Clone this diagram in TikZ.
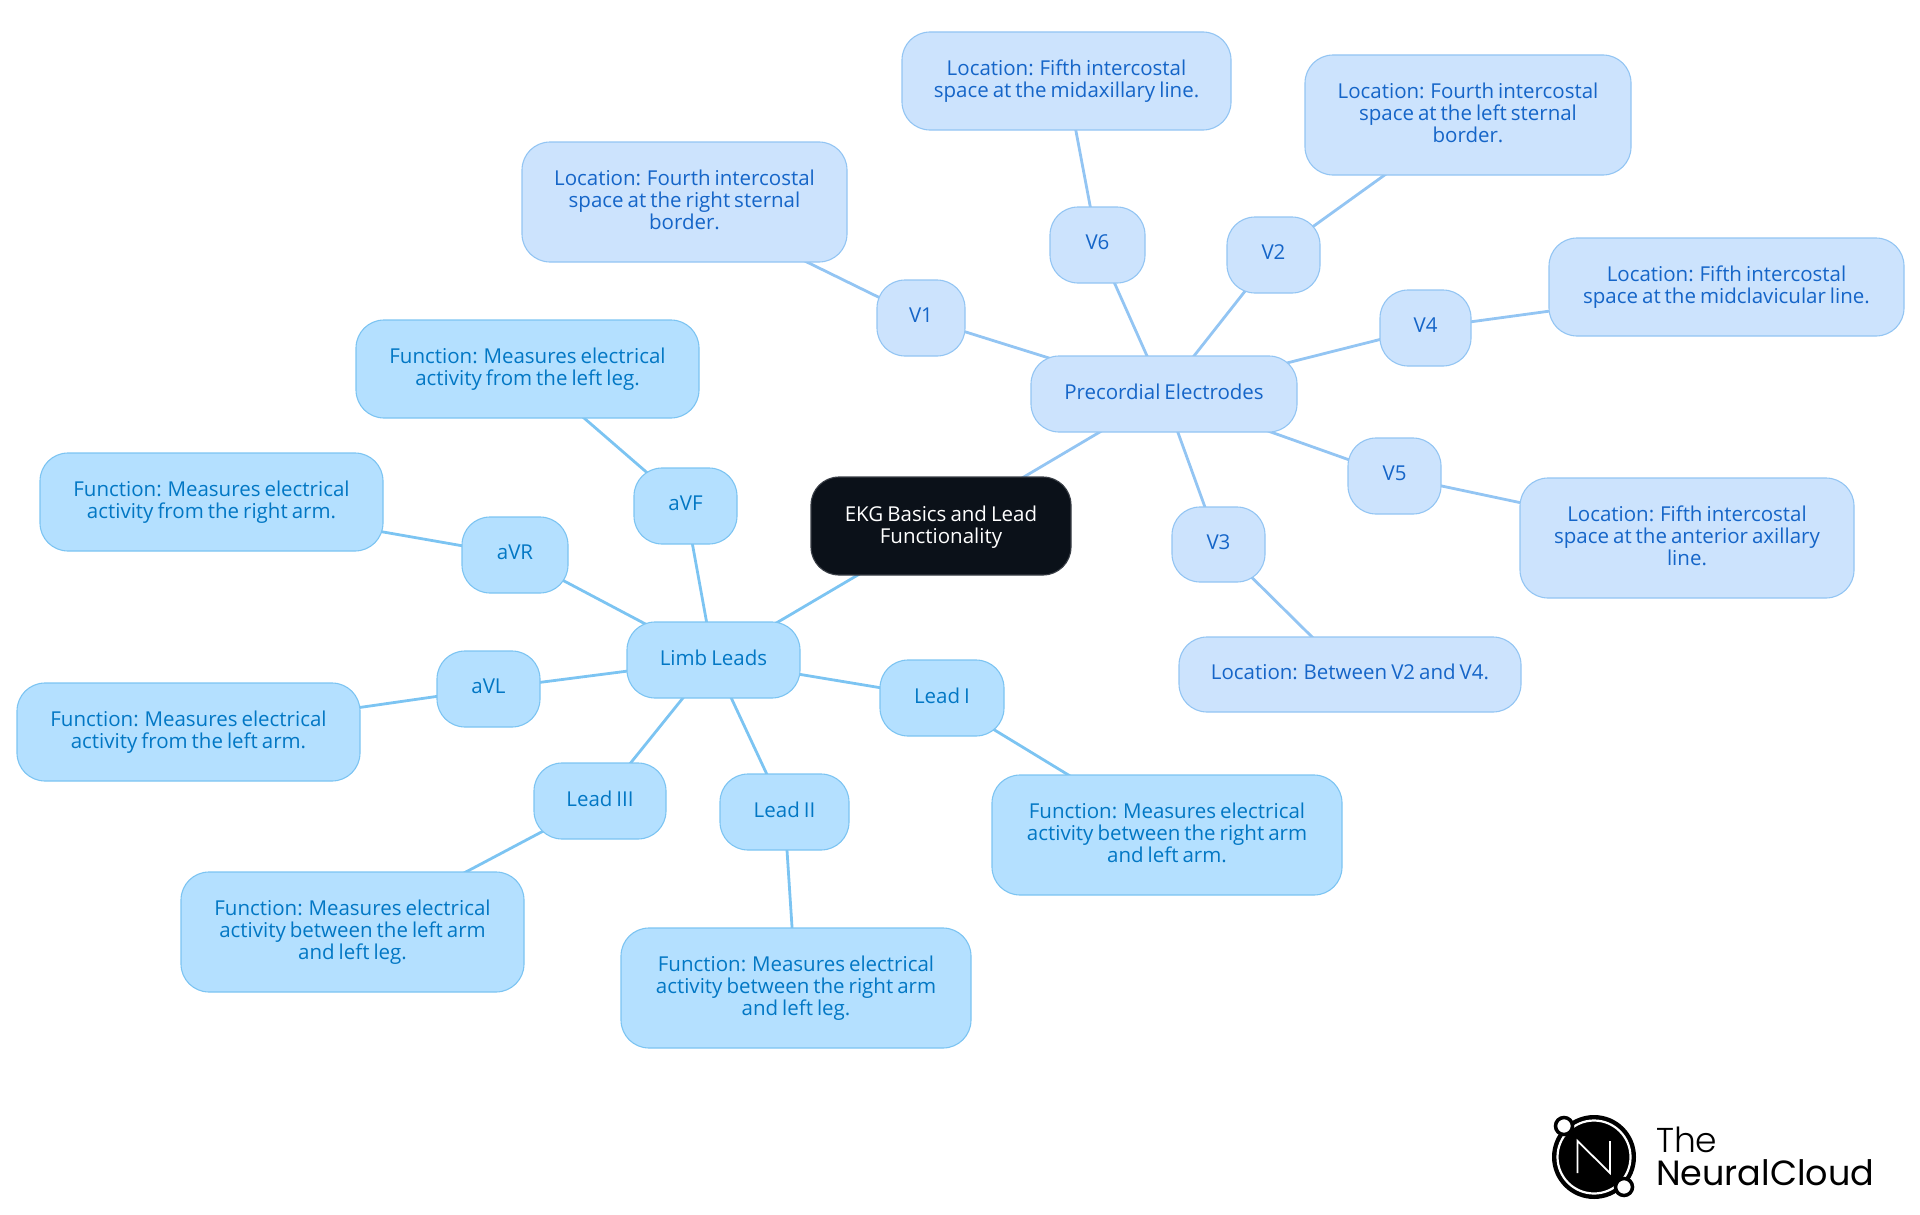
\documentclass[tikz,border=0pt]{standalone}
\usepackage{fontspec}
\setmainfont[WordSpace=0.75]{Open Sans}
\newfontfamily\logofont[UprightFont=* Light]{Poppins}
\newfontfamily\logofontb{Poppins}
\usetikzlibrary{backgrounds}
\definecolor{rootfill}{HTML}{0B1119}
\definecolor{rootline}{HTML}{3A3F47}
\definecolor{pfill}{HTML}{CCE3FD}
\definecolor{pline}{HTML}{93C5F3}
\definecolor{ptext}{HTML}{1565C8}
\definecolor{lfill}{HTML}{B4E0FF}
\definecolor{lline}{HTML}{7CC4F2}
\definecolor{ltext}{HTML}{0277C4}
\tikzset{
  x=1pt,y=-1pt,
  base/.style={rectangle,rounded corners=28pt,inner sep=0pt,line width=1.1pt,align=center,
    text depth=5pt,font=\fontsize{20.5}{22}\selectfont},
  rootbox/.style={base,fill=rootfill,draw=rootline,text=white,text depth=2.5pt},
  pbox/.style={base,fill=pfill,draw=pline,text=ptext},
  lbox/.style={base,fill=lfill,draw=lline,text=ltext},
  size/.style n args={2}{minimum width=#1pt,minimum height=#2pt},
  plink/.style={draw=pline,line width=2.8pt},
  llink/.style={draw=lline,line width=2.8pt},
}
\begin{document}
\begin{tikzpicture}
\useasboundingbox (0,0) rectangle (1920,1215);
\node[rootbox,size={260}{98}] (root) at (941,526) {EKG Basics and Lead\\Functionality};
\node[pbox,size={266}{76}] (prec) at (1164,394) {Precordial Electrodes};
\node[pbox,size={88}{76}] (v1) at (921,318) {V1};
\node[pbox,size={95}{76}] (v6) at (1097.5,245) {V6};
\node[pbox,size={93}{76}] (v2) at (1273.5,255) {V2};
\node[pbox,size={91}{76}] (v4) at (1425.5,328) {V4};
\node[pbox,size={93}{76}] (v5) at (1394.5,476) {V5};
\node[pbox,size={93}{75}] (v3) at (1218.5,544.5) {V3};
\node[pbox,size={325}{120}] (lv1) at (684.5,202) {Location: Fourth intercostal\\space at the right sternal\\border.};
\node[pbox,size={329}{98}] (lv6) at (1066.5,81) {Location: Fifth intercostal\\space at the midaxillary line.};
\node[pbox,size={326}{120}] (lv2) at (1468,115) {Location: Fourth intercostal\\space at the left sternal\\border.};
\node[pbox,size={355}{98}] (lv4) at (1726.5,287) {Location: Fifth intercostal\\space at the midclavicular line.};
\node[pbox,size={334}{120}] (lv5) at (1687,538) {Location: Fifth intercostal\\space at the anterior axillary\\line.};
\node[pbox,size={342}{75}] (lv3) at (1350,674.5) {Location: Between V2 and V4.};
\node[lbox,size={173}{76}] (limb) at (713.5,660) {Limb Leads};
\node[lbox,size={103}{76}] (avf) at (685.5,506) {aVF};
\node[lbox,size={106}{76}] (avr) at (515,555) {aVR};
\node[lbox,size={103}{76}] (avl) at (488.5,689) {aVL};
\node[lbox,size={124}{76}] (li) at (942,698) {Lead I};
\node[lbox,size={129}{76}] (lii) at (784.5,812) {Lead II};
\node[lbox,size={132}{76}] (liii) at (600,801) {Lead III};
\node[lbox,size={343}{98}] (favf) at (527.5,369) {Function: Measures electrical\\activity from the left leg.};
\node[lbox,size={343}{98}] (favr) at (211.5,502) {Function: Measures electrical\\activity from the right arm.};
\node[lbox,size={343}{98}] (favl) at (188.5,732) {Function: Measures electrical\\activity from the left arm.};
\node[lbox,size={350}{120}] (fi) at (1167,835) {Function: Measures electrical\\activity between the right arm\\and left arm.};
\node[lbox,size={350}{120}] (fii) at (796,988) {Function: Measures electrical\\activity between the right arm\\and left leg.};
\node[lbox,size={343}{120}] (fiii) at (352.5,932) {Function: Measures electrical\\activity between the left arm\\and left leg.};
\begin{scope}[on background layer]
\path[plink] (root.center) -- (prec.center);
\path[llink] (root.center) -- (limb.center);
\foreach \a/\b in {prec/v1,prec/v6,prec/v2,prec/v4,prec/v5,prec/v3,v1/lv1,v6/lv6,v2/lv2,v4/lv4,v5/lv5,v3/lv3}
  \path[plink] (\a.center) -- (\b.center);
\foreach \a/\b in {limb/avf,limb/avr,limb/avl,limb/li,limb/lii,limb/liii,avf/favf,avr/favr,avl/favl,li/fi,lii/fii,liii/fiii}
  \path[llink] (\a.center) -- (\b.center);
\end{scope}
% logo
\fill[black] (1594,1157) circle (42);
\draw[white,line width=2.2pt] (1594,1157) circle (36.5);
\draw[white,line width=1.8pt,line join=miter] (1577.5,1173) -- (1577.5,1141) -- (1610,1173) -- (1610,1141);
\filldraw[fill=white,draw=black,line width=3.5pt] (1564,1126) circle (8.5);
\filldraw[fill=white,draw=black,line width=3.5pt] (1624,1187) circle (8.5);
\node[anchor=base west,inner sep=0pt,font=\logofont\fontsize{34.5}{35}\selectfont] (lgthe) at (1656,1152) {The};
\node[anchor=base west,inner sep=0pt,font=\logofontb\fontsize{35}{35}\selectfont] (lgnc) at (1656,1185) {NeuralCloud};
\end{tikzpicture}
\end{document}
